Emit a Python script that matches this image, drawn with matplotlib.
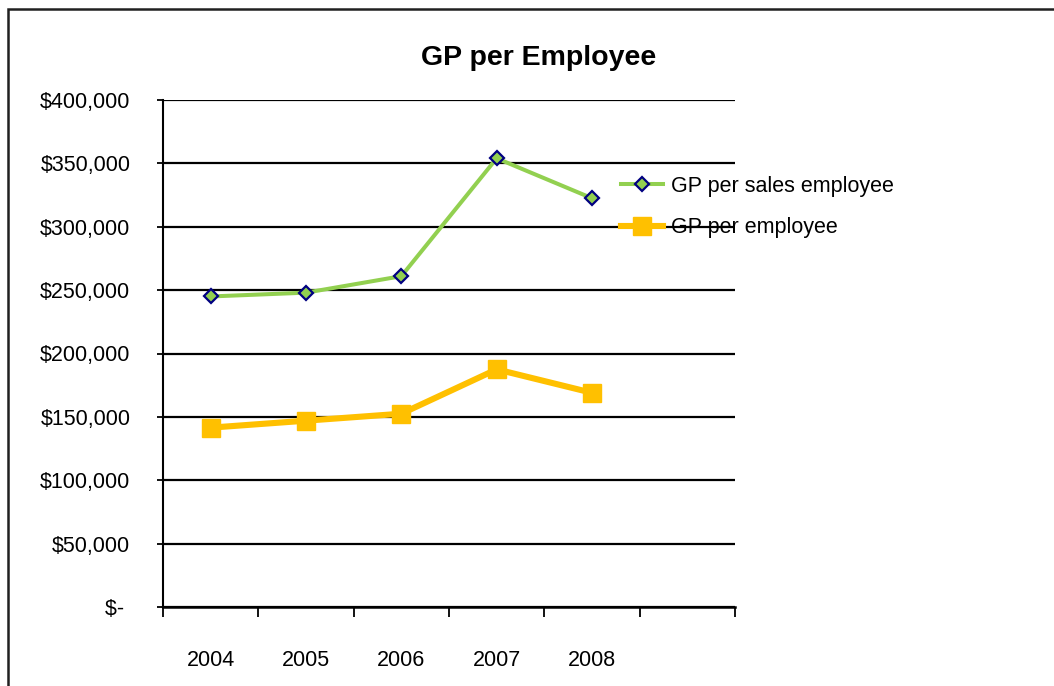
import matplotlib
matplotlib.use("Agg")
import matplotlib.pyplot as plt
from matplotlib.patches import Rectangle
from matplotlib.ticker import FuncFormatter, FixedLocator

years = ["2004", "2005", "2006", "2007", "2008"]
gp_sales_employee = [245000, 248000, 261000, 354000, 322500]
gp_employee = [141500, 147000, 152500, 187500, 169000]
y_ticks = [0, 50000, 100000, 150000, 200000, 250000, 300000, 350000, 400000]
title = "GP per Employee"
labels = ["GP per sales employee", "GP per employee"]

W, H = 1054, 686
plt.rcParams['font.family'] = ['Liberation Sans', 'DejaVu Sans']
fig = plt.figure(figsize=(W / 100, H / 100), dpi=100)
fig.patch.set_facecolor('white')

# outer chart frame (extends past the canvas right and bottom)
frame = Rectangle((8 / W, -0.2), 1.2, 1 - 9 / H + 0.2, transform=fig.transFigure,
                  fill=False, edgecolor='#202020', linewidth=1.8)
fig.patches.append(frame)

left, right, top, bottom = 163, 735, 100, 607
ax = fig.add_axes([left / W, 1 - bottom / H, (right - left) / W, (bottom - top) / H])

x = list(range(len(years)))
ax.plot(x, gp_sales_employee, color='#92D050', linewidth=2.9, marker='D',
        markersize=7.5, markerfacecolor='#92D050', markeredgecolor='#000080',
        markeredgewidth=1.6, label=labels[0], zorder=3)
ax.plot(x, gp_employee, color='#FFC000', linewidth=4.4, marker='s',
        markersize=12.5, markerfacecolor='#FFC000', markeredgecolor='#FFC000',
        label=labels[1], zorder=3)

ax.set_xlim(-0.5, len(years) + 0.5)
ax.set_ylim(0, 400000)

# horizontal gridlines
ax.yaxis.set_major_locator(FixedLocator(y_ticks))
ax.grid(axis='y', color='black', linewidth=1.6, zorder=1)
ax.set_axisbelow(True)
for gl in ax.get_ygridlines():
    gl.set_zorder(1)

def fmt(v, pos):
    if v == 0:
        return "$- "
    return "${:,.0f}".format(v)
ax.yaxis.set_major_formatter(FuncFormatter(fmt))
ax.tick_params(axis='y', which='major', direction='out', length=4.5, width=1.3,
               pad=19, labelsize=15.5, colors='black')

# x ticks at category boundaries, labels at centres
ax.set_xticks([i - 0.5 for i in range(len(years) + 2)])
ax.set_xticklabels([])
ax.set_xticks(x, minor=True)
ax.set_xticklabels(years, minor=True)
ax.tick_params(axis='x', which='major', direction='out', length=7, width=1.3)
ax.tick_params(axis='x', which='minor', length=0, pad=31, labelsize=15.5)

for s in ['top', 'right']:
    ax.spines[s].set_visible(False)
ax.spines['left'].set_linewidth(1.5)
ax.spines['bottom'].set_linewidth(1.8)

fig.text(539 / W, 1 - 58 / H, title, ha='center', va='center',
         fontsize=20.5, fontweight='bold')

leg = ax.legend(loc='upper left', bbox_to_anchor=(621 / W, 1 - 176 / H),
                bbox_transform=fig.transFigure, frameon=False, fontsize=15.5,
                handlelength=1.95, handletextpad=0.38, labelspacing=0.95,
                borderpad=0, borderaxespad=0)
leg.set_zorder(0.5)

fig.savefig("out.png", dpi=100, facecolor='white')
